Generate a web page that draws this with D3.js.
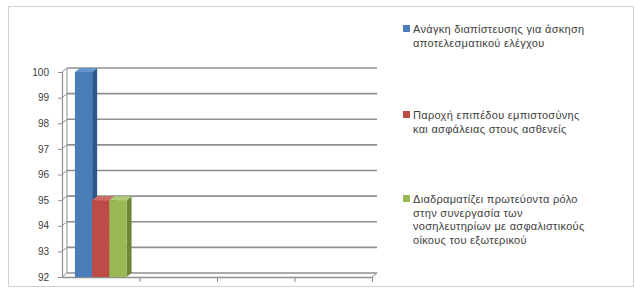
<!DOCTYPE html>
<html>
<head>
<meta charset="utf-8">
<script src="https://cdn.jsdelivr.net/npm/d3@7"></script>
<style>
    body { margin: 0; background: #fff; }
    svg { display: block; }
    text { font-family: "Liberation Sans", Arial, sans-serif; fill: #404040; }
</style>
</head>
<body>
<div id="chart"></div>
<script>
// DATA
// four category slots, only the first one holds values
var categories = ["1", "2", "3", "4"];
var seriesKeys = ["s1", "s2", "s3"];
var seriesLabels = [
    ["Ανάγκη διαπίστευσης για άσκηση", "αποτελεσματικού ελέγχου"],
    ["Παροχή επιπέδου εμπιστοσύνης", "και ασφάλειας στους ασθενείς"],
    ["Διαδραματίζει πρωτεύοντα ρόλο", "στην συνεργασία των", "νοσηλευτηρίων με ασφαλιστικούς", "οίκους του εξωτερικού"]
];
var s1Values = [100, null, null, null];
var s2Values = [95, null, null, null];
var s3Values = [95, null, null, null];
var yTicks = [92, 93, 94, 95, 96, 97, 98, 99, 100];

// GLOBALS
var svgWidth = 635;
var svgHeight = 290;
// front plane of the plot
var plot = { left: 62, right: 372, top: 72, bottom: 277 };
// 3d depth offset
var depth = { dx: 5, dy: -4 };
var colors = {
    s1: { front: "#4A7EBB", top: "#6593CC", side: "#2F5789" },
    s2: { front: "#BE4B48", top: "#D06B68", side: "#8A3331" },
    s3: { front: "#98B954", top: "#B0CB75", side: "#6D8937" }
};
var gridColor = "#8f8f8f";

var svg = d3.select("#chart")
    .append("svg")
    .attr("width", svgWidth)
    .attr("height", svgHeight);

// outer frame
svg.append("rect")
    .attr("x", 8.5)
    .attr("y", 6.5)
    .attr("width", 625)
    .attr("height", 280)
    .attr("fill", "#fff")
    .attr("stroke", "#d0d0d0");

// SCALES
var x0 = d3.scaleBand()
    .domain(categories)
    .range([plot.left, plot.right])
    .padding(0);

var x1 = d3.scaleBand()
    .domain(seriesKeys)
    .range([0, x0.bandwidth()])
    .paddingInner(0)
    .paddingOuter(0.75);

var y = d3.scaleLinear()
    .domain([92, 100])
    .range([plot.bottom, plot.top]);

// boundary positions for the category ticks
var xEdge = d3.scaleLinear()
    .domain([0, categories.length])
    .range([plot.left, plot.right]);

// BACK WALL GRIDLINES + diagonals to the front axis
var grid = svg.append("g");
yTicks.forEach(function (t) {
    var yy = y(t);
    grid.append("line")
        .attr("x1", plot.left + depth.dx)
        .attr("x2", plot.right + depth.dx)
        .attr("y1", yy + depth.dy)
        .attr("y2", yy + depth.dy)
        .attr("stroke", gridColor)
        .attr("stroke-width", 1.6);
    grid.append("line")
        .attr("x1", plot.left)
        .attr("x2", plot.left + depth.dx)
        .attr("y1", yy)
        .attr("y2", yy + depth.dy)
        .attr("stroke", gridColor)
        .attr("stroke-width", 1);
});

// back wall left edge
grid.append("line")
    .attr("x1", plot.left + depth.dx)
    .attr("x2", plot.left + depth.dx)
    .attr("y1", y(100) + depth.dy)
    .attr("y2", y(92) + depth.dy)
    .attr("stroke", gridColor)
    .attr("stroke-width", 1);

// floor right diagonal
grid.append("line")
    .attr("x1", plot.right)
    .attr("x2", plot.right + depth.dx)
    .attr("y1", plot.bottom)
    .attr("y2", plot.bottom + depth.dy)
    .attr("stroke", gridColor)
    .attr("stroke-width", 1);

// Y AXIS (front)
var leftAxis = d3.axisLeft(y)
    .tickValues(yTicks)
    .tickSize(4)
    .tickPadding(9)
    .tickFormat(d3.format("d"));

var yAxis = svg.append("g")
    .attr("transform", `translate(${plot.left}, 0)`)
    .call(leftAxis);
yAxis.select(".domain").attr("stroke", gridColor).attr("stroke-width", 1.2);
yAxis.selectAll(".tick line").attr("stroke", gridColor);
yAxis.selectAll("text")
    .attr("font-size", "10px")
    .attr("font-family", "Liberation Sans, Arial, sans-serif")
    .attr("fill", "#404040");

// X AXIS (front floor edge), ticks between categories, no labels
var bottomAxis = d3.axisBottom(xEdge)
    .tickValues(d3.range(1, categories.length + 1))
    .tickSize(5)
    .tickSizeOuter(0)
    .tickFormat("");

var xAxis = svg.append("g")
    .attr("transform", `translate(0, ${plot.bottom})`)
    .call(bottomAxis);
xAxis.select(".domain").attr("stroke", gridColor).attr("stroke-width", 1.6);
xAxis.selectAll(".tick line").attr("stroke", gridColor);

// BARS (3d columns)
var seriesValues = { s1: s1Values, s2: s2Values, s3: s3Values };
var barsGroup = svg.append("g");

seriesKeys.forEach(function (key) {
    categories.forEach(function (cat, i) {
        var v = seriesValues[key][i];
        if (v === null) return;
        var xa = x0(cat) + x1(key);
        var xb = xa + x1.bandwidth();
        var yt = y(v);
        var yb = y(92);
        var c = colors[key];

        // side face
        barsGroup.append("polygon")
            .attr("points", [
                [xb, yt], [xb + depth.dx, yt + depth.dy],
                [xb + depth.dx, yb + depth.dy], [xb, yb]
            ].join(" "))
            .attr("fill", c.side);

        // top face
        barsGroup.append("polygon")
            .attr("points", [
                [xa, yt], [xa + depth.dx, yt + depth.dy],
                [xb + depth.dx, yt + depth.dy], [xb, yt]
            ].join(" "))
            .attr("fill", c.top);

        // front face
        barsGroup.append("rect")
            .attr("x", xa)
            .attr("y", yt)
            .attr("width", xb - xa)
            .attr("height", yb - yt)
            .attr("fill", c.front);
    });
});

// LEGEND
var legendTop = [29, 115, 199];
var legend = svg.append("g");
seriesKeys.forEach(function (key, i) {
    legend.append("rect")
        .attr("x", 403)
        .attr("y", legendTop[i] - 4)
        .attr("width", 7)
        .attr("height", 7)
        .attr("fill", colors[key].front);

    var t = legend.append("text")
        .attr("x", 413)
        .attr("y", legendTop[i] + 3.8)
        .attr("font-size", "11px")
        .attr("letter-spacing", "0.3px");
    seriesLabels[i].forEach(function (line, j) {
        t.append("tspan")
            .attr("x", 413)
            .attr("dy", j === 0 ? 0 : 13.7)
            .text(line);
    });
});
</script>
</body>
</html>
